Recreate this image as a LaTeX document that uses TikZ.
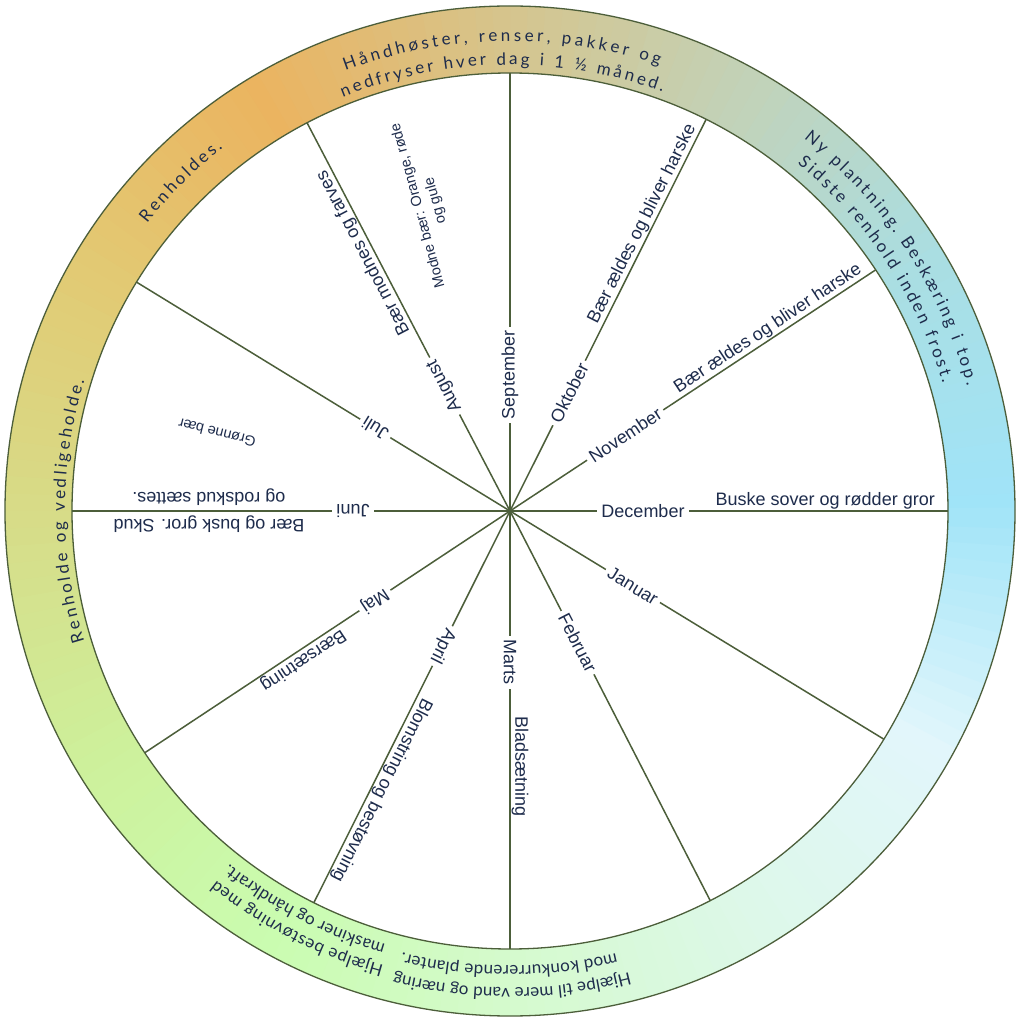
\documentclass[tikz,border=0pt]{standalone}
\usepackage{fontspec}
\setmainfont{Liberation Sans}
\newfontfamily\ringfont{Lato}
\usetikzlibrary{decorations.text}
\definecolor{txt}{RGB}{30,44,76}
\definecolor{spk}{RGB}{76,94,58}
\definecolor{ringA}{RGB}{160,228,248}
\definecolor{ringB}{RGB}{170,222,226}
\definecolor{ringC}{RGB}{194,210,184}
\definecolor{ringD}{RGB}{214,196,140}
\definecolor{ringE}{RGB}{235,180,96}
\definecolor{ringF}{RGB}{226,202,116}
\definecolor{ringG}{RGB}{215,220,136}
\definecolor{ringH}{RGB}{205,240,155}
\definecolor{ringI}{RGB}{202,252,176}
\definecolor{ringJ}{RGB}{213,250,206}
\definecolor{ringK}{RGB}{221,248,233}
\definecolor{ringL}{RGB}{226,246,251}
\newcommand{\ringsize}{\ringfont\fontsize{17}{20}\selectfont}
\newcommand{\ringline}[4]{\path[decorate, decoration={text along path, text color=txt, text align={fit to path}, text={|\ringsize|#4}}] (#2:#1) arc[start angle=#2, end angle=#3, radius=#1];}
\tikzstyle{spoke} = [draw=spk, line width=1.5pt]
\tikzstyle{rim} = [draw=spk, line width=1.3pt]
\tikzstyle{month} = [fill=white, text=txt, font=\fontsize{18}{21}\selectfont, inner xsep=4pt, inner ysep=1pt]
\tikzstyle{desc} = [text=txt, font=\fontsize{18}{21}\selectfont, inner sep=1.5pt]
\tikzstyle{note} = [text=txt, font=\fontsize{14.5}{18}\selectfont, align=center]

\begin{document}
\begin{tikzpicture}[x=1pt, y=1pt]
\useasboundingbox (-510,-513) rectangle (514,511);
\fill[white] (-510,-513) rectangle (514,511);
\coordinate (c) at (0,0);
% ring
\foreach \a/\ca/\cb in {0/ringA/ringB, 30/ringB/ringC, 60/ringC/ringD, 90/ringD/ringE, 120/ringE/ringF, 150/ringF/ringG, 180/ringG/ringH, 210/ringH/ringI, 240/ringI/ringJ, 270/ringJ/ringK, 300/ringK/ringL, 330/ringL/ringA}{
  \foreach \t in {0,...,14}{
    \pgfmathtruncatemacro\p{100-\t*100/15}
    \pgfmathsetmacro\sa{\a+2*\t}
    \pgfmathsetmacro\ea{\a+2*\t+2.4}
    \fill[\ca!\p!\cb] (\sa:438) arc[start angle=\sa, end angle=\ea, radius=438] -- (\ea:505) arc[start angle=\ea, end angle=\sa, radius=505] -- cycle;
  }
}
\draw[rim] (c) circle[radius=505];
\draw[rim] (c) circle[radius=438];

% spokes and months
\foreach \m/\a/\r in {December/0/133, November/33.4/138, Oktober/63.4/132, September/90/136, August/117.6/141, Juli/148.5/158, Juni/180/157, Maj/213.5/162, April/243.4/151, Marts/270/151, Februar/297.2/148, Januar/328.6/144}{
  \coordinate (e\m) at (\a:438);
  \draw[spoke] (c) -- (e\m);
  \node(\m)[month, rotate=\a] at (\a:\r) {\m};
}

% phases
\node(dDec)[desc, rotate=0, anchor=south west] at (0:204) {Buske sover og rødder gror};
\node(dNov)[desc, rotate=33.4, anchor=south west] at (33.4:204) {Bær ældes og bliver harske};
\node(dOkt)[desc, rotate=63.4, anchor=south west] at (63.4:204) {Bær ældes og bliver harske};
\node(dAug)[desc, rotate=117.6, anchor=south west] at (117.6:204) {Bær modnes og farves};
\node(dJun)[desc, rotate=180, anchor=west, align=center] at (180:204) {Bær og busk gror. Skud\\[6pt]og rodskud sættes.};
\node(dMaj)[desc, rotate=213.5, anchor=south west] at (213.5:204) {Bærsætning};
\node(dApr)[desc, rotate=243.4, anchor=south west] at (243.4:204) {Blomstring og bestøvning};
\node(dMar)[desc, rotate=270, anchor=south west] at (270:204) {Bladsætning};
\node(green)[note, rotate=166] at (-293,78) {Grønne bær};
\node(ripe)[note, rotate=105.5] at (-83,308) {Modne bær: Orange, røde\\og gule};

% work in the ring
\ringline{470}{110.5}{71.5}{Håndhøster, renser, pakker og}
\ringline{446}{112}{70}{nedfryser hver dag i 1 ½ måned.}
\ringline{474}{51.7}{15.3}{Ny plantning. Beskæring i top.}
\ringline{451}{50.4}{16.4}{Sidste renhold inden frost.}
\ringline{463}{141.6}{128.3}{Renholdes.}
\ringline{445}{197}{163}{Renholde og vedligeholde.}
\ringline{472}{254.5}{231.5}{Hjælpe bestøvning med}
\ringline{451}{254}{231.5}{maskiner og håndkraft.}
\ringline{477}{284.5}{256}{Hjælpe til mere vand og næring}
\ringline{455}{283.5}{256.3}{mod konkurrerende planter.}
\end{tikzpicture}
\end{document}
